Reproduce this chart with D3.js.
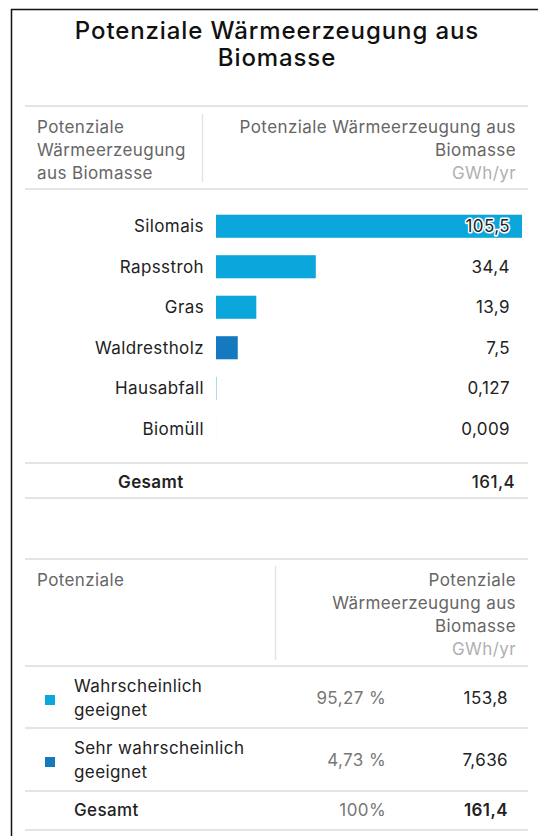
<!DOCTYPE html>
<html lang="de">
<head>
<meta charset="UTF-8">
<title>Potenziale Wärmeerzeugung aus Biomasse</title>
<script src="https://d3js.org/d3.v7.min.js"></script>
<style>
  * { margin: 0; padding: 0; }
  body { background: #fff; }
  svg { display: block; font-family: Inter, "Open Sans", sans-serif; letter-spacing: 0.4px; }
</style>
</head>
<body>
<svg width="538" height="836"></svg>
<script>
// data
var sources = ["Silomais", "Rapsstroh", "Gras", "Waldrestholz", "Hausabfall", "Biomüll"];
var values = [105.5, 34.4, 13.9, 7.5, 0.127, 0.009];
var valueLabels = ["105,5", "34,4", "13,9", "7,5", "0,127", "0,009"];
var sourceGroup = [0, 0, 0, 1, 0, 0];
var totalLabel = "161,4";

var classes = [["Wahrscheinlich", "geeignet"], ["Sehr wahrscheinlich", "geeignet"]];
var classShares = ["95,27 %", "4,73 %"];
var classValues = ["153,8", "7,636"];
var totalShare = "100%";

var colors = ["#0aa6dc", "#1479be"];

var svg = d3.select("svg");
var lineCol = "#e4e4e4";
var fs = 17;

// frame
svg.append("line").attr("x1", 11).attr("x2", 538).attr("y1", 9.5).attr("y2", 9.5)
  .attr("stroke", "#111").attr("stroke-width", 1.5);
svg.append("line").attr("x1", 11.5).attr("x2", 11.5).attr("y1", 9).attr("y2", 836)
  .attr("stroke", "#111").attr("stroke-width", 1.5);

// title
svg.append("text").attr("text-anchor", "middle")
  .attr("font-size", 24).attr("font-weight", 500).attr("fill", "#111")
  .style("letter-spacing", "0.9px")
  .selectAll("tspan").data(["Potenziale Wärmeerzeugung aus", "Biomasse"]).join("tspan")
  .attr("x", 277).attr("y", (d, i) => 39 + i * 27).text(d => d);

function hline(y) {
  svg.append("line").attr("x1", 25).attr("x2", 528).attr("y1", y).attr("y2", y)
    .attr("stroke", lineCol).attr("stroke-width", 2);
}

function lines(x, y0, arr, anchor, fill, step) {
  svg.append("g").selectAll("text").data(arr).join("text")
    .attr("x", x).attr("y", (d, i) => y0 + i * step).attr("dy", "0.35em")
    .attr("text-anchor", anchor).attr("font-size", fs)
    .attr("fill", (d, i) => typeof fill === "function" ? fill(i) : fill)
    .text(d => d);
}

// ---- table 1 header
hline(106);
hline(189);
svg.append("line").attr("x1", 202.5).attr("x2", 202.5).attr("y1", 114).attr("y2", 182)
  .attr("stroke", lineCol).attr("stroke-width", 1.5);
lines(37, 127, ["Potenziale", "Wärmeerzeugung", "aus Biomasse"], "start", "#666", 23);
lines(516, 127, ["Potenziale Wärmeerzeugung aus", "Biomasse", "GWh/yr"], "end",
  i => i === 2 ? "#b0b0b0" : "#666", 23);

// ---- bars
var x = d3.scaleLinear().domain([0, d3.max(values)]).range([216, 522]);
var y = d3.scaleBand().domain(sources).range([206, 449]).paddingInner(0.43).paddingOuter(0.215);

var rows = svg.append("g").selectAll("g").data(sources).join("g");
rows.append("rect")
  .attr("x", x(0)).attr("y", d => y(d))
  .attr("width", (d, i) => x(values[i]) - x(0)).attr("height", y.bandwidth())
  .attr("fill", (d, i) => colors[sourceGroup[i]]);
rows.append("text")
  .attr("x", 204).attr("y", d => y(d) + y.bandwidth() / 2).attr("dy", "0.35em")
  .attr("text-anchor", "end").attr("font-size", fs).attr("fill", "#222")
  .text(d => d);
rows.append("text")
  .attr("x", 510).attr("y", d => y(d) + y.bandwidth() / 2).attr("dy", "0.35em")
  .attr("text-anchor", "end").attr("font-size", fs).attr("fill", "#222")
  .attr("stroke", (d, i) => x(values[i]) > 470 ? "#fff" : "none")
  .attr("stroke-width", 3).attr("paint-order", "stroke").attr("stroke-linejoin", "round")
  .text((d, i) => valueLabels[i]);

hline(463);
hline(498);
svg.append("text").attr("x", 118).attr("y", 482).attr("dy", "0.35em")
  .attr("font-size", fs).attr("font-weight", 600).attr("fill", "#222").text("Gesamt");
svg.append("text").attr("x", 515).attr("y", 482).attr("dy", "0.35em").attr("text-anchor", "end")
  .attr("font-size", fs).attr("font-weight", 500).attr("fill", "#222").text(totalLabel);

// ---- table 2
hline(559);
hline(666);
svg.append("line").attr("x1", 275.5).attr("x2", 275.5).attr("y1", 566).attr("y2", 660)
  .attr("stroke", lineCol).attr("stroke-width", 1.5);
lines(37, 580, ["Potenziale"], "start", "#666", 23);
lines(516, 580, ["Potenziale", "Wärmeerzeugung aus", "Biomasse", "GWh/yr"], "end",
  i => i === 3 ? "#b0b0b0" : "#666", 23);

var rowY = d3.scaleBand().domain(d3.range(classes.length)).range([667, 791]);
classes.forEach(function (c, i) {
  var cy = rowY(i) + rowY.bandwidth() / 2;
  svg.append("rect").attr("x", 45).attr("y", cy - 3).attr("width", 10).attr("height", 10)
    .attr("fill", colors[i]);
  lines(74, cy - 12, c, "start", "#222", 24);
  svg.append("text").attr("x", 386).attr("y", cy).attr("dy", "0.35em").attr("text-anchor", "end")
    .attr("font-size", fs).attr("fill", "#777").text(classShares[i]);
  svg.append("text").attr("x", 508).attr("y", cy).attr("dy", "0.35em").attr("text-anchor", "end")
    .attr("font-size", fs).attr("fill", "#222").text(classValues[i]);
  if (i < classes.length - 1) hline(rowY(i + 1) - 1);
});
hline(791);
hline(830);
svg.append("text").attr("x", 74).attr("y", 810).attr("dy", "0.35em")
  .attr("font-size", fs).attr("font-weight", 500).attr("fill", "#222").text("Gesamt");
svg.append("text").attr("x", 386).attr("y", 810).attr("dy", "0.35em").attr("text-anchor", "end")
  .attr("font-size", fs).attr("fill", "#777").text(totalShare);
svg.append("text").attr("x", 508).attr("y", 810).attr("dy", "0.35em").attr("text-anchor", "end")
  .attr("font-size", fs).attr("font-weight", 600).attr("fill", "#222").text(totalLabel);
</script>
</body>
</html>
